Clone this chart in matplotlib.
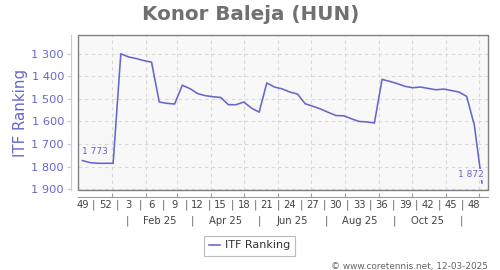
import matplotlib
matplotlib.use("Agg")
import matplotlib.pyplot as plt
from matplotlib.ticker import FixedLocator, FuncFormatter, NullFormatter
from matplotlib.transforms import blended_transform_factory
from matplotlib.patches import Rectangle

# ---- data (x = days since 1 Dec 2024, weekly points) ----
ranking = [1773, 1782, 1785, 1785, 1785, 1301, 1315, 1322, 1331, 1338,
           1514, 1520, 1523, 1440, 1455, 1477, 1486, 1491, 1494, 1526,
           1526, 1514, 1541, 1559, 1430, 1448, 1456, 1470, 1479, 1522,
           1533, 1545, 1560, 1574, 1575, 1588, 1600, 1602, 1607, 1414,
           1423, 1433, 1445, 1451, 1448, 1454, 1460, 1457, 1463, 1470,
           1489, 1615, 1872]
days = [4 + 7 * i for i in range(len(ranking))]

week_labels = ["49", "52", "3", "6", "9", "12", "15", "18", "21", "24",
               "27", "30", "33", "36", "39", "42", "45", "48"]
week_days = [4 + 21 * i for i in range(len(week_labels))]
month_bounds = [31, 62, 90, 121, 151, 182, 212, 243, 274, 304, 335, 365]
month_labels = ["Feb 25", "Apr 25", "Jun 25", "Aug 25", "Oct 25"]
month_seps = [45, 104, 165, 226, 288, 349]
y_ticks = [1300, 1400, 1500, 1600, 1700, 1800, 1900]

LINE = "#6666cc"
W, H = 500, 270
fig = plt.figure(figsize=(5, 2.7), dpi=100)
ax = fig.add_axes([78 / W, 1 - 190 / H, 410 / W, 155 / H])
ax.set_facecolor("#f8f8f8")
ax.set_xlim(0, 373.5)
ax.set_ylim(1903, 1218)

ax.plot(days, ranking, color=LINE, lw=1.15, zorder=3)

# frame
for s in ["top", "right"]:
    ax.spines[s].set_visible(False)
ax.add_patch(Rectangle((0, 0), 1, 1, transform=ax.transAxes, fill=False,
                       edgecolor="#808080", lw=1.0, clip_on=False, zorder=5))
ax.spines["left"].set_position(("outward", 5))
ax.spines["left"].set_color("#c8c8ea")
ax.spines["bottom"].set_position(("outward", 5))
ax.spines["bottom"].set_color("#999999")

ax.yaxis.set_major_locator(FixedLocator(y_ticks))
ax.yaxis.set_major_formatter(FuncFormatter(lambda v, p: f"{int(v):,}".replace(",", " ")))
ax.tick_params(axis="y", direction="out", length=3, color="#c8c8ea",
               labelcolor=LINE, labelsize=8.2, pad=2)
ax.xaxis.set_major_locator(FixedLocator(month_bounds))
ax.xaxis.set_major_formatter(NullFormatter())
ax.tick_params(axis="x", direction="in", length=3, color="#999999")
ax.grid(True, color="#d8d8d8", lw=0.8, ls=(0, (3, 3)))
ax.set_axisbelow(True)

fig.text(21 / W, 1 - 112.5 / H, "ITF Ranking", rotation=90, ha="center",
         va="center", color=LINE, fontsize=10.8)

# week label row + separators
tr = blended_transform_factory(ax.transData, fig.transFigure)
yw = 1 - 205 / H
for d, lab in zip(week_days, week_labels):
    ax.text(d, yw, lab, transform=tr, ha="center", va="center", fontsize=7.2,
            color="#444444", clip_on=False)
for a, b in zip(week_days[:-1], week_days[1:]):
    ax.text((a + b) / 2, yw, "|", transform=tr, ha="center", va="center",
            fontsize=7.2, color="#666666", clip_on=False)
ym = 1 - 221 / H
for a, b, lab in zip(month_seps[:-1], month_seps[1:], month_labels):
    ax.text((a + b) / 2, ym, lab, transform=tr, ha="center", va="center",
            fontsize=7.2, color="#444444", clip_on=False)
for s in month_seps:
    ax.text(s, ym, "|", transform=tr, ha="center", va="center",
            fontsize=7.2, color="#666666", clip_on=False)

# end labels
ax.annotate(f"{ranking[0]:,}".replace(",", " "), (days[0], ranking[0]),
            xytext=(0, 3), textcoords="offset points", ha="left", va="bottom",
            fontsize=6.5, color=LINE, zorder=4)
ax.annotate(f"{ranking[-1]:,}".replace(",", " "), (days[-1], ranking[-1]),
            xytext=(1, 3), textcoords="offset points", ha="right", va="bottom",
            fontsize=6.5, color=LINE, zorder=4,
            bbox=dict(boxstyle="square,pad=0.1", fc="#f8f8f8", ec="none"))

fig.suptitle("Konor Baleja (HUN)", x=0.501, y=1 - 14 / H, va="center",
             fontsize=14.3, fontweight="bold", color="#707070")

leg = fig.legend(["ITF Ranking"], loc="center", bbox_to_anchor=(249.5 / W, 1 - 245.5 / H),
                 fontsize=8, frameon=True, fancybox=False, edgecolor="#aaaaaa",
                 handlelength=1.0, handletextpad=0.5, borderpad=0.45)
leg.get_frame().set_linewidth(0.8)
for t in leg.get_texts():
    t.set_color("#333333")

fig.text(488 / W, 1 - 266 / H, "© www.coretennis.net, 12-03-2025", ha="right",
         va="center", fontsize=6.4, color="#666666")

fig.savefig("out.png", dpi=100)
